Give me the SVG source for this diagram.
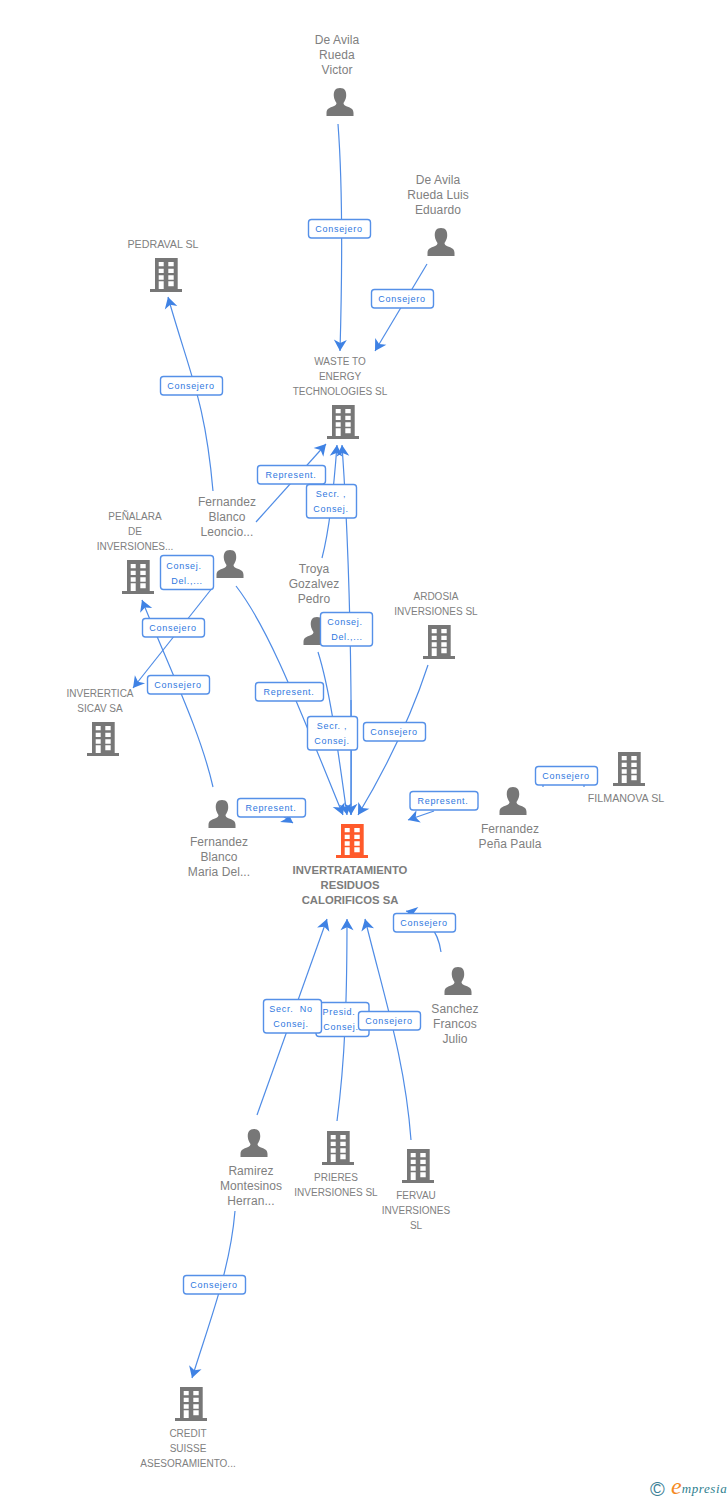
<svg xmlns="http://www.w3.org/2000/svg" width="728" height="1500" viewBox="0 0 728 1500">
<style>
.e{fill:none;stroke:#4f8ce6;stroke-width:1.2;marker-end:url(#a)}
.n{fill:none;stroke:#4f8ce6;stroke-width:1.2}
.p{fill:#fff;stroke:#5590e8;stroke-width:1.4}
.pt{font:9px "Liberation Sans",Arial,sans-serif;letter-spacing:.7px;fill:#2f78e0;text-anchor:middle}
.t{font:12px "Liberation Sans",Arial,sans-serif;letter-spacing:.08px;fill:#808080;text-anchor:middle}
.c{font:10px "Liberation Sans",Arial,sans-serif;fill:#808080;text-anchor:middle}
.w{font-size:10.7px}
.b{font:bold 11.3px "Liberation Sans",Arial,sans-serif;fill:#7c7c7c;text-anchor:middle}
</style>
<defs>
<marker id="a" markerUnits="userSpaceOnUse" markerWidth="20" markerHeight="20" refX="12" refY="8" orient="auto" viewBox="0 0 16 16"><path d="M12,8L3,2.800L5.500,8L3,13.200Z" fill="#3f82e4"/></marker>
<symbol id="bld" width="32" height="34" viewBox="0 0 32 34"><path fill-rule="evenodd" d="M5,0H27.700V31H32V34H0V31H5ZM8.700,4V8.300H13.700V4ZM18.300,4V8.300H23.700V4ZM8.700,10.700V15H13.700V10.700ZM18.300,10.700V15H23.700V10.700ZM8.700,17.300V21.700H13.700V17.300ZM18.300,17.300V21.700H23.700V17.300ZM8.700,23.300V31H13.700V23.300ZM18.300,23.300V28.300H23.700V23.300Z"/></symbol>
<symbol id="per" width="28" height="28" viewBox="0 0 28 28"><path d="M14,0C9,0 7.500,3.500 7.800,8C8,11 9.500,13.500 10.500,15C10.500,16.500 9.500,17.500 7,18.500C3,20 .5,21 .5,25V28H27.500V25C27.500,21 25,20 21,18.500C18.500,17.500 17.500,16.500 17.500,15C18.500,13.500 20,11 20.200,8C20.500,3.500 19,0 14,0Z"/></symbol>
</defs>
<rect width="728" height="1500" fill="#fff"/>
<g id="connectors">
<path class="e" d="M338,124C343,190 342,280 340,351"/>
<path class="e" d="M427,264L375,351"/>
<path class="e" d="M213,491C205,400 190,375 168,297"/>
<path class="e" d="M256,522L326,444"/>
<path class="e" d="M322,558C328,535 333,500 337,445"/>
<path class="e" d="M351,815C352,700 350,560 342,445"/>
<path class="e" d="M236,586C270,630 300,710 343,815"/>
<path class="e" d="M318,652C330,690 338,750 347,815"/>
<path class="e" d="M351,700L351,815"/>
<path class="e" d="M428,665C410,720 385,770 358,815"/>
<path class="e" d="M213,587L133,688"/>
<path class="e" d="M213,787C200,730 170,670 142,600"/>
<path class="e" d="M280,814L293,823"/>
<path class="e" d="M434,811L408,820"/>
<path class="n" d="M543,785V787M584,785V787"/>
<path class="e" d="M441,952C438,930 425,915 406,911"/>
<path class="e" d="M257,1115L327,919"/>
<path class="e" d="M337,1121C345,1060 347,1000 347,919"/>
<path class="e" d="M411,1140C405,1060 385,1000 365,919"/>
<path class="e" d="M235,1211C230,1270 210,1320 192,1378"/>
</g>
<g id="n1" fill="#777"><use href="#per" x="326" y="88"/><text class="t"><tspan x="337" y="44">De Avila</tspan><tspan x="337" y="59">Rueda</tspan><tspan x="337" y="74">Victor</tspan></text></g>
<g id="n2" fill="#777"><use href="#per" x="427" y="228"/><text class="t"><tspan x="438" y="184">De Avila</tspan><tspan x="438" y="199">Rueda Luis</tspan><tspan x="438" y="214">Eduardo</tspan></text></g>
<g id="n3" fill="#777"><use href="#bld" x="150" y="258"/><text class="c w" x="163" y="248">PEDRAVAL SL</text></g>
<g id="n4" fill="#777"><use href="#bld" x="327" y="405"/><text class="c"><tspan x="340" y="365">WASTE TO</tspan><tspan x="340" y="380">ENERGY</tspan><tspan x="340" y="395">TECHNOLOGIES SL</tspan></text></g>
<g id="n5" fill="#777"><use href="#bld" x="122" y="560"/><text class="c"><tspan x="135" y="520">PEÑALARA</tspan><tspan x="135" y="535">DE</tspan><tspan x="135" y="550">INVERSIONES...</tspan></text></g>
<g id="n6" fill="#777"><use href="#per" x="216" y="550"/><text class="t"><tspan x="227" y="506">Fernandez</tspan><tspan x="227" y="521">Blanco</tspan><tspan x="227" y="536">Leoncio...</tspan></text></g>
<g id="n7" fill="#777"><use href="#per" x="303" y="617"/><text class="t"><tspan x="314" y="573">Troya</tspan><tspan x="314" y="588">Gozalvez</tspan><tspan x="314" y="603">Pedro</tspan></text></g>
<g id="n8" fill="#777"><use href="#bld" x="423" y="625"/><text class="c"><tspan x="436" y="600">ARDOSIA</tspan><tspan x="436" y="615">INVERSIONES SL</tspan></text></g>
<g id="n9" fill="#777"><use href="#bld" x="87" y="722"/><text class="c"><tspan x="100" y="697">INVERERTICA</tspan><tspan x="100" y="712">SICAV SA</tspan></text></g>
<g id="n10" fill="#777"><use href="#bld" x="613" y="752"/><text class="c w" x="626" y="802">FILMANOVA SL</text></g>
<g id="n11" fill="#777"><use href="#per" x="499" y="787"/><text class="t"><tspan x="510" y="833">Fernandez</tspan><tspan x="510" y="848">Peña Paula</tspan></text></g>
<g id="n12" fill="#777"><use href="#per" x="208" y="800"/><text class="t"><tspan x="219" y="846">Fernandez</tspan><tspan x="219" y="861">Blanco</tspan><tspan x="219" y="876">Maria Del...</tspan></text></g>
<g id="main" fill="#ff5a2b"><use href="#bld" x="336" y="824"/><text class="b"><tspan x="350" y="874">INVERTRATAMIENTO</tspan><tspan x="350" y="889">RESIDUOS</tspan><tspan x="350" y="904">CALORIFICOS SA</tspan></text></g>
<g id="n13" fill="#777"><use href="#per" x="444" y="967"/><text class="t"><tspan x="455" y="1013">Sanchez</tspan><tspan x="455" y="1028">Francos</tspan><tspan x="455" y="1043">Julio</tspan></text></g>
<g id="n14" fill="#777"><use href="#per" x="240" y="1129"/><text class="t"><tspan x="251" y="1175">Ramirez</tspan><tspan x="251" y="1190">Montesinos</tspan><tspan x="251" y="1205">Herran...</tspan></text></g>
<g id="n15" fill="#777"><use href="#bld" x="322" y="1131"/><text class="c"><tspan x="336" y="1181">PRIERES</tspan><tspan x="336" y="1196">INVERSIONES SL</tspan></text></g>
<g id="n16" fill="#777"><use href="#bld" x="402" y="1149"/><text class="c"><tspan x="416" y="1199">FERVAU</tspan><tspan x="416" y="1214">INVERSIONES</tspan><tspan x="416" y="1229">SL</tspan></text></g>
<g id="n17" fill="#777"><use href="#bld" x="175" y="1387"/><text class="c"><tspan x="188" y="1437">CREDIT</tspan><tspan x="188" y="1452">SUISSE</tspan><tspan x="188" y="1467">ASESORAMIENTO...</tspan></text></g>
<g id="labels">
<rect class="p" x="308.500" y="219.500" width="62" height="18.500" rx="3"/><text class="pt" x="339" y="232">Consejero</text>
<rect class="p" x="371.500" y="289.500" width="62" height="18.500" rx="3"/><text class="pt" x="402" y="302">Consejero</text>
<rect class="p" x="160.500" y="376.500" width="62" height="18.500" rx="3"/><text class="pt" x="191" y="389">Consejero</text>
<rect class="p" x="257.500" y="465.500" width="68" height="18.500" rx="3"/><text class="pt" x="291" y="478">Represent.</text>
<rect class="p" x="306.500" y="484.500" width="50" height="33.500" rx="3"/><text class="pt"><tspan x="331" y="497">Secr. ,</tspan><tspan x="331" y="512">Consej.</tspan></text>
<rect class="p" x="160.500" y="555.500" width="53" height="34" rx="3"/><text class="pt"><tspan x="184" y="569">Consej.</tspan><tspan x="187" y="584">Del.,...</tspan></text>
<rect class="p" x="320.500" y="612.500" width="52" height="33.500" rx="3"/><text class="pt"><tspan x="345" y="625">Consej.</tspan><tspan x="347" y="640">Del.,...</tspan></text>
<rect class="p" x="142.500" y="618.500" width="62" height="18.500" rx="3"/><text class="pt" x="173" y="631">Consejero</text>
<rect class="p" x="147.500" y="675.500" width="62" height="18.500" rx="3"/><text class="pt" x="178" y="688">Consejero</text>
<rect class="p" x="255.500" y="682.500" width="68" height="18.500" rx="3"/><text class="pt" x="289" y="695">Represent.</text>
<rect class="p" x="307.500" y="716.500" width="50" height="33.500" rx="3"/><text class="pt"><tspan x="332" y="729">Secr. ,</tspan><tspan x="332" y="744">Consej.</tspan></text>
<rect class="p" x="363.500" y="722.500" width="62" height="18.500" rx="3"/><text class="pt" x="394" y="735">Consejero</text>
<rect class="p" x="535.500" y="766.500" width="62" height="18.500" rx="3"/><text class="pt" x="566" y="779">Consejero</text>
<rect class="p" x="237.500" y="798.500" width="68" height="18.500" rx="3"/><text class="pt" x="271" y="811">Represent.</text>
<rect class="p" x="410" y="791.500" width="68" height="18.500" rx="3"/><text class="pt" x="443" y="804">Represent.</text>
<rect class="p" x="393.500" y="913.500" width="62" height="18.500" rx="3"/><text class="pt" x="424" y="926">Consejero</text>
<rect class="p" x="316" y="1002.500" width="53" height="34" rx="3"/><text class="pt"><tspan x="339" y="1015">Presid.</tspan><tspan x="341" y="1030">Consej.</tspan></text>
<rect class="p" x="263.500" y="999.500" width="58" height="33.500" rx="3"/><text class="pt"><tspan x="291" y="1012">Secr.&#160; No</tspan><tspan x="291" y="1027">Consej.</tspan></text>
<rect class="p" x="358.500" y="1011.500" width="62" height="18.500" rx="3"/><text class="pt" x="389" y="1024">Consejero</text>
<rect class="p" x="183.500" y="1275.500" width="62" height="18.500" rx="3"/><text class="pt" x="214" y="1288">Consejero</text>
</g>
<g id="logo"><text x="650" y="1496" style="font:20px 'Liberation Sans',sans-serif;fill:#3c7f96">©</text><text x="671" y="1494" style="font-family:'Liberation Serif',serif;font-style:italic"><tspan style="font-size:24px;fill:#f58a1f">e</tspan><tspan dy="-1" style="font-size:13px;fill:#2f7f8f;letter-spacing:.6px">mpresia</tspan></text></g>
</svg>
